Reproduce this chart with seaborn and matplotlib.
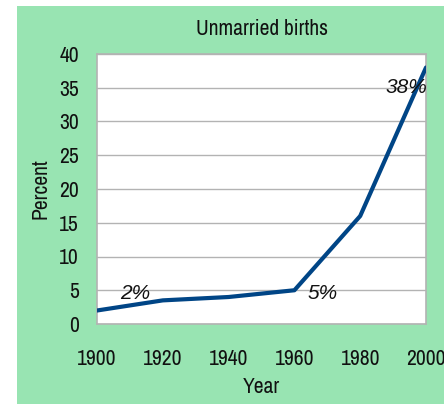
#Importing required libraries
import matplotlib
matplotlib.use("Agg")
import matplotlib.pyplot as plt
import seaborn as sns
import pandas as pd
from matplotlib.patches import Rectangle

#Chart data
years = [1900, 1920, 1940, 1960, 1980, 2000]
percent = [2, 3.5, 4, 5, 16, 38]
label_years = [1900, 1960, 2000]
label_values = [2, 5, 38]
label_texts = ["2%", "5%", "38%"]
x_ticks = [1900, 1920, 1940, 1960, 1980, 2000]
y_ticks = [0, 5, 10, 15, 20, 25, 30, 35, 40]

df = pd.DataFrame({"Year": years, "Percent": percent})

sns.set_style("white")
plt.rcParams['font.family'] = ['Archivo Narrow', 'Liberation Sans', 'DejaVu Sans']

green = "#98e4b2"
grey = "#b3b3b3"
blue = "#004586"

fig = plt.figure(figsize=(4.44, 4.04), dpi=100)
fig.patch.set_facecolor("white")
#green background panel (leaves a white strip at left/top)
bg = Rectangle((17/444, 0), 1 - 17/444, 1 - 6/404, transform=fig.transFigure,
               facecolor=green, edgecolor="none", zorder=-10)
fig.add_artist(bg)

ax = fig.add_axes([97/444, 80/404, 329/444, 270/404])
ax.set_facecolor("white")

sns.lineplot(data=df, x="Year", y="Percent", color=blue, linewidth=3, ax=ax, zorder=3)

ax.set_xlim(1900, 2000)
ax.set_ylim(0, 40)
ax.set_xticks(x_ticks)
ax.set_yticks(y_ticks)
ax.yaxis.grid(True, color=grey, linewidth=1)
ax.set_axisbelow(True)
for s in ax.spines.values():
    s.set_color(grey)
    s.set_linewidth(1.2)
ax.tick_params(axis="both", direction="out", length=8, width=1.2, color=grey,
               labelsize=15.5, labelcolor="#111111")
ax.tick_params(axis="x", pad=10)
ax.tick_params(axis="y", pad=5)

ax.set_xlabel("Year", fontsize=15.5, color="#111111", labelpad=6)
ax.set_ylabel("Percent", fontsize=15.5, color="#111111", labelpad=6)
ax.set_title("Unmarried births", fontsize=15.5, color="#111111", pad=14)

#Annotations (wider italic face, like the original)
offsets = [(38, 17), (28, -3), (-20, -20)]
for x, y, t, off in zip(label_years, label_values, label_texts, offsets):
    ax.annotate(t, (x, y), xytext=off, textcoords="offset pixels", ha="center", va="center",
                fontsize=15, style="italic", color="#111111", zorder=4,
                family=['Liberation Sans', 'DejaVu Sans'], annotation_clip=False)

plt.savefig("out.png", dpi=100, facecolor=fig.get_facecolor())
